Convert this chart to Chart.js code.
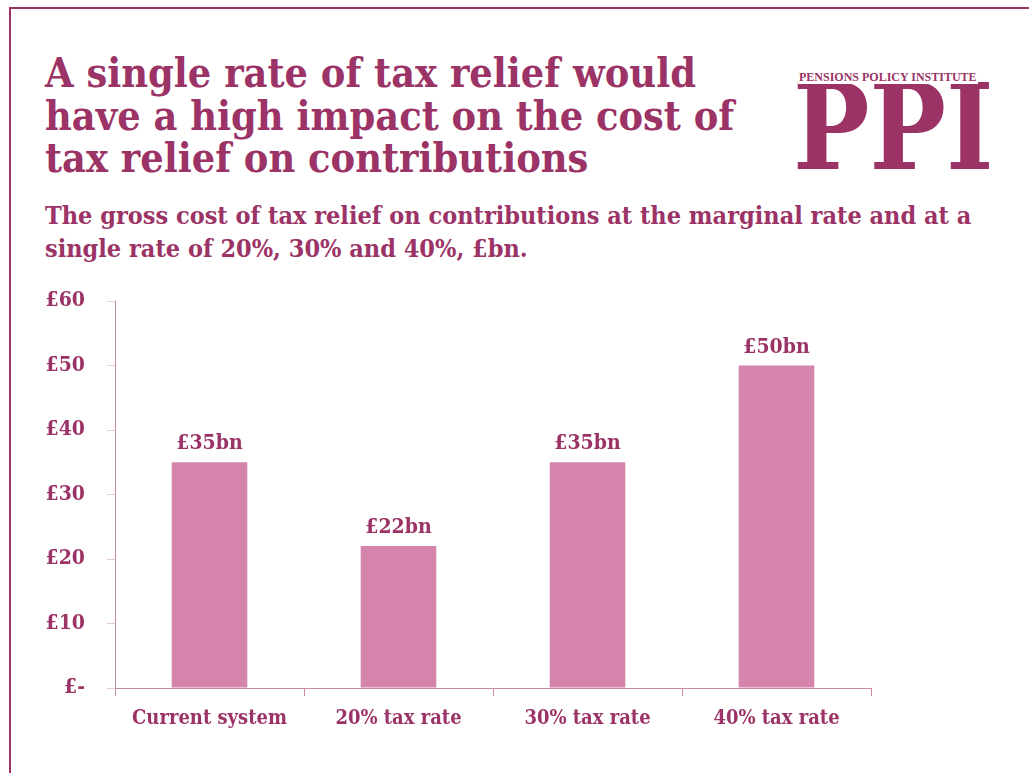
<!DOCTYPE html>
<html>
<head>
<meta charset="utf-8">
<script src="https://cdn.jsdelivr.net/npm/chart.js@4.4.1/dist/chart.umd.min.js"></script>
<style>
  html, body { margin: 0; padding: 0; background: #ffffff; }
  body { width: 1029px; height: 773px; position: relative; overflow: hidden;
         font-family: 'DejaVu Serif Condensed', 'DejaVu Serif', serif; font-stretch: condensed;
         color: #9B3366; font-weight: bold; }
  .frame { position: absolute; left: 9px; top: 7px; right: -10px; bottom: -10px;
           border-left: 2px solid #9B3366; border-top: 2px solid #9B3366; }
  .title { position: absolute; left: 45px; top: 52px; font-size: 41px; line-height: 42.5px;
           white-space: nowrap; }
  .subtitle { position: absolute; left: 45px; top: 199px; font-size: 25px; line-height: 33px;
              white-space: nowrap; }
  .logo-big { position: absolute; left: 793px; top: 68px; font-size: 119px; line-height: 119px;
              white-space: nowrap; font-family: 'DejaVu Serif', serif; font-stretch: normal;
              transform: scaleX(0.855); transform-origin: 0 0; }
  .logo-small { position: absolute; left: 798px; top: 70px; font-size: 12px; line-height: 14px;
                white-space: nowrap; font-family: 'Liberation Serif', serif; font-stretch: normal;
                background: #ffffff; padding: 0 1px; }
  canvas { position: absolute; left: 0; top: 0; }
</style>
</head>
<body>
<div class="frame"></div>
<div class="title">A single rate of tax relief would<br>have a high impact on the cost of<br>tax relief on contributions</div>
<div class="subtitle">The gross cost of tax relief on contributions at the marginal rate and at a<br>single rate of 20%, 30% and 40%, £bn.</div>
<div class="logo-big">PPI</div>
<div class="logo-small">PENSIONS POLICY INSTITUTE</div>
<canvas id="chart" width="1029" height="773"></canvas>
<script>
// Gross cost of tax relief on contributions, £bn
const categories = ['Current system', '20% tax rate', '30% tax rate', '40% tax rate'];
const costBn = [35, 22, 35, 50];
const yTickValues = [0, 10, 20, 30, 40, 50, 60];
const yTickLabels = ['£-', '£10', '£20', '£30', '£40', '£50', '£60'];

const TEXT = '#9B3366';
const BAR = '#D585AB';
const AXIS = '#C48BA6';
const TICK = '#E6CCD9';
const FAMILY = "'DejaVu Serif Condensed', 'DejaVu Serif', serif";

// Value labels above each bar
const valueLabels = {
  id: 'valueLabels',
  afterDatasetsDraw(chart) {
    const ctx = chart.ctx;
    const meta = chart.getDatasetMeta(0);
    ctx.save();
    ctx.fillStyle = TEXT;
    ctx.font = 'bold 21px ' + FAMILY;
    ctx.textAlign = 'center';
    ctx.textBaseline = 'alphabetic';
    meta.data.forEach((bar, i) => {
      ctx.fillText('£' + costBn[i] + 'bn', bar.x, bar.y - 13);
    });
    ctx.restore();
  }
};

new Chart(document.getElementById('chart'), {
  type: 'bar',
  data: {
    labels: categories,
    datasets: [{
      data: costBn,
      backgroundColor: BAR,
      borderWidth: 0,
      categoryPercentage: 1,
      barPercentage: 0.4
    }]
  },
  options: {
    responsive: false,
    animation: false,
    layout: { padding: { left: 0, top: 301, right: 158, bottom: 0 } },
    plugins: { legend: { display: false }, tooltip: { enabled: false } },
    scales: {
      x: {
        offset: true,
        grid: { drawOnChartArea: false, drawTicks: true, tickLength: 8, color: AXIS, offset: true },
        border: { color: AXIS, width: 1 },
        ticks: { color: TEXT, font: { family: FAMILY, size: 20, weight: 'bold' }, padding: 11 },
        afterFit(s) { s.height = 85; }
      },
      y: {
        min: 0, max: 60,
        afterBuildTicks(s) { s.ticks = yTickValues.map(v => ({ value: v })); },
        grid: { drawOnChartArea: false, drawTicks: true, tickLength: 8, color: TICK },
        border: { color: AXIS, width: 1 },
        ticks: {
          color: TEXT, padding: 22,
          font: { family: FAMILY, size: 21, weight: 'bold' },
          callback: (v) => yTickLabels[yTickValues.indexOf(v)]
        },
        afterFit(s) { s.width = 115; }
      }
    }
  },
  plugins: [valueLabels]
});
</script>
</body>
</html>
